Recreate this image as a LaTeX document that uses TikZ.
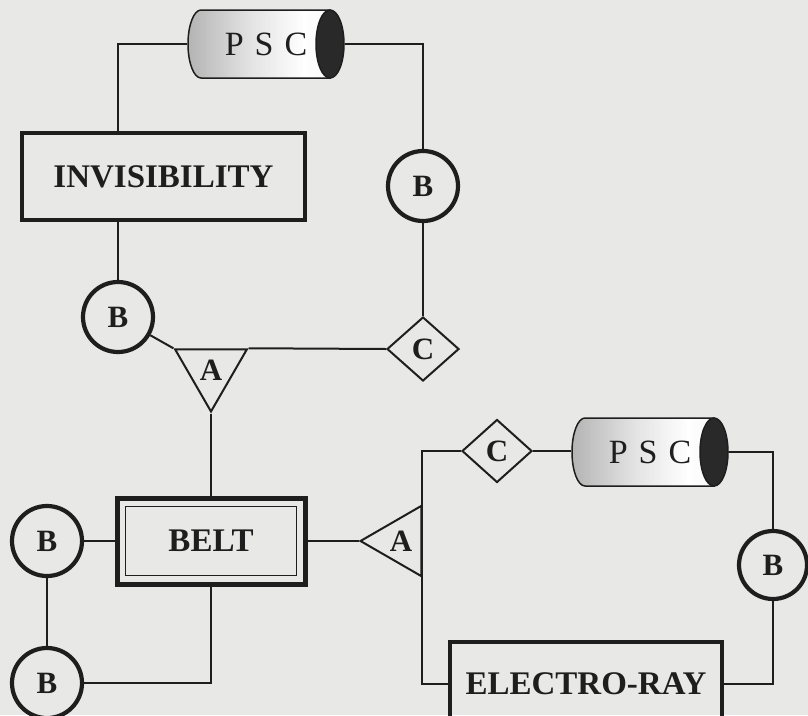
\documentclass[tikz,border=0pt]{standalone}
\usepackage{fontspec}
\setmainfont{Liberation Serif}
\usetikzlibrary{shapes.geometric,calc}
\definecolor{paper}{HTML}{E8E8E6}
\definecolor{ink}{HTML}{1E1E1E}
\pgfdeclarehorizontalshading{cylsh}{100bp}{color(0bp)=(black!66); color(18bp)=(black!50); color(45bp)=(black!15); color(62bp)=(white); color(80bp)=(black!8); color(100bp)=(black!28)}
\pgfdeclareverticalshading{cylv}{100bp}{color(0bp)=(black); color(22bp)=(white); color(78bp)=(white); color(100bp)=(black)}
\newcommand\labfont{\fontsize{31}{31}\selectfont\bfseries}
\newcommand\boxfont{\fontsize{33}{33}\selectfont\bfseries}
\newcommand\pscfont{\fontsize{34}{34}\selectfont}
\tikzset{
  ln/.style={draw=ink, line width=2pt},
  bnode/.style={circle, draw=ink, line width=4.2pt, minimum size=70pt, inner sep=0pt, font=\labfont, text=ink},
  cnode/.style={diamond, draw=ink, line width=2pt, minimum width=72pt, minimum height=64pt, inner sep=0pt, font=\labfont, text=ink},
  anode/.style={regular polygon, regular polygon sides=3, draw=ink, line width=2pt, inner sep=0pt, font=\labfont, text=ink},
  boxnode/.style={rectangle, draw=ink, line width=4.5pt, inner sep=0pt, font=\boxfont, text=ink},
  cyl/.style={rectangle, minimum width=158pt, minimum height=70pt, inner sep=0pt, font=\pscfont, text=ink,
    path picture={
      \path[shading=cylsh, postaction={shading=cylv, fill opacity=0.28}, postaction={draw=ink, line width=1.5pt}]
        ([shift={(14pt,-1pt)}]path picture bounding box.north west)
        -- ([shift={(-15pt,-1pt)}]path picture bounding box.north east)
        -- ([shift={(-15pt,1pt)}]path picture bounding box.south east)
        -- ([shift={(14pt,1pt)}]path picture bounding box.south west)
        arc[start angle=270, end angle=90, x radius=13pt, y radius=34pt] -- cycle;
      \filldraw[fill=ink!95, draw=ink, line width=1.5pt]
        ([xshift=-15pt]path picture bounding box.east) ellipse[x radius=14pt, y radius=34pt];
    }},
}
\begin{document}
\begin{tikzpicture}[x=1pt, y=-1pt]
\useasboundingbox (0,0) rectangle (808,715);
\fill[paper] (0,0) rectangle (808,715);
\clip (0,0) rectangle (808,715);

% nodes
\node[cyl] (psc1) at (266,44) {P\hspace{11pt}S\hspace{11pt}C};
\node[boxnode, minimum width=283pt, minimum height=87pt] (inv) at (163.5,176.5) {INVISIBILITY};
\node[bnode] (bTR) at (423,186) {B};
\node[bnode] (bL1) at (118,317) {B};
\node[anode, shape border rotate=180, minimum size=83pt] (triA1) at (211,370) {A};
\node[cnode] (c1) at (423,349) {C};
\node[boxnode, line width=5pt, minimum width=188pt, minimum height=86pt] (belt) at (211,541) {BELT};
\draw[ink, line width=1.5pt] ($(belt.north west)+(11pt,-11pt)$) rectangle ($(belt.south east)+(-11pt,11pt)$);
\node[bnode] (bL2) at (47,541) {B};
\node[bnode] (bL3) at (47,683) {B};
\node[anode, shape border rotate=90, minimum size=81pt] (triA2) at (401,541) {A};
\node[cnode, minimum width=70pt, minimum height=63pt] (c2) at (497,451) {C};
\node[cyl] (psc2) at (650,452) {P\hspace{11pt}S\hspace{11pt}C};
\node[bnode, minimum size=68pt] (bR) at (773,565) {B};
\node[boxnode, minimum width=272pt, minimum height=84pt] (eray) at (586,684) {ELECTRO-RAY};

% connectors
\draw[ln] (psc1.west) -| (bL1.north |- inv.north);
\draw[ln] (inv.south -| bL1.north) -- (bL1.north);
\draw[ln] (psc1.east) -| (bTR.north);
\draw[ln] (bTR.south) -- (c1.north);
\draw[ln] (bL1) -- (triA1.corner 3);
\draw[ln] (triA1.corner 2) -- (c1.west);
\draw[ln] (triA1.corner 1) -- (belt.north);
\draw[ln] (bL2) -- (belt.west);
\draw[ln] (bL2) -- (bL3);
\draw[ln] (belt.south) |- (bL3.east);
\draw[ln] (belt.east) -- (triA2.corner 1);
\draw[ln] (c2.west) -- (c2.west -| triA2.corner 3) |- (eray.west);
\draw[ln] (c2.east) -- (c2.east -| psc2.west);
\draw[ln] (psc2.east) -| (bR.north);
\draw[ln] (bR.south) |- (eray.east);
\end{tikzpicture}
\end{document}
